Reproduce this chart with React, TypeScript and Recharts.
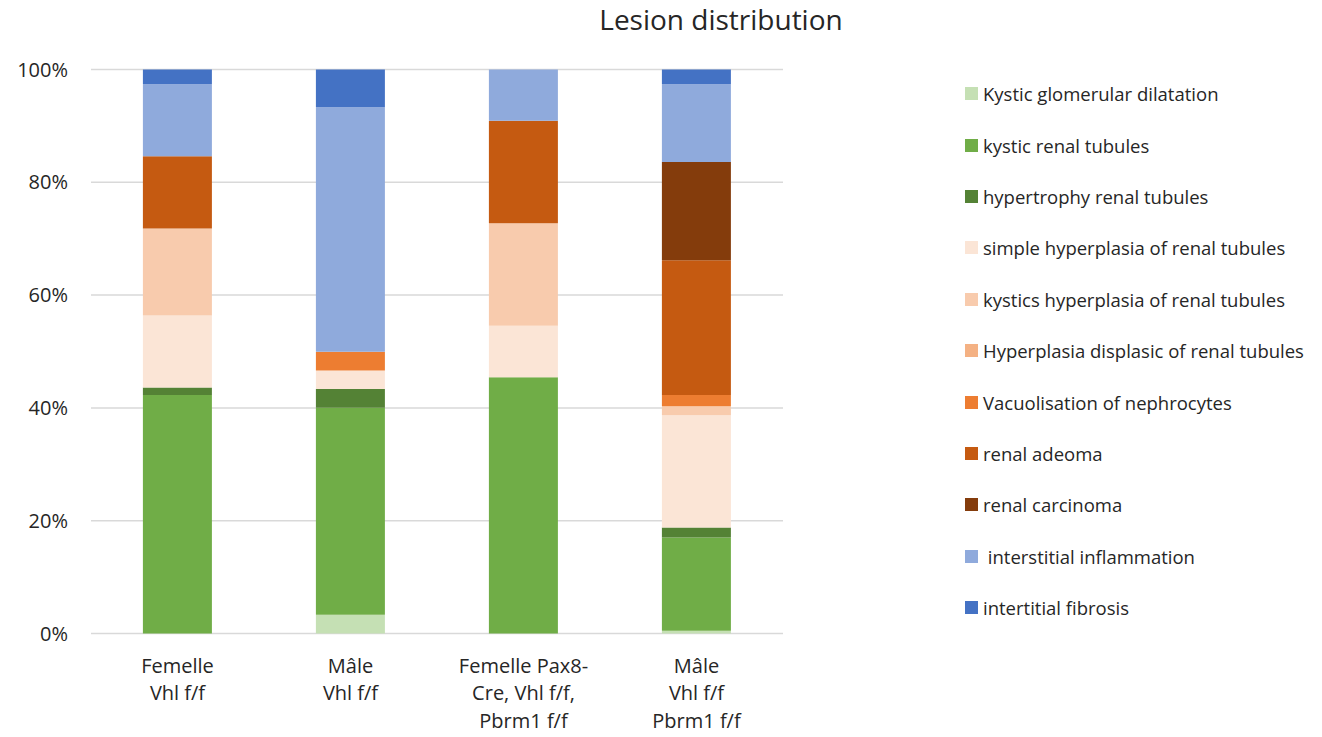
import React from 'react';
import { BarChart, Bar, XAxis, YAxis, CartesianGrid } from 'recharts';

// groups on the x axis
const categories = ['Femelle Vhl f/f', 'Mâle Vhl f/f', 'Femelle Pax8-Cre, Vhl f/f, Pbrm1 f/f', 'Mâle Vhl f/f Pbrm1 f/f'];
const categoryLines = [
    ['Femelle', 'Vhl f/f'],
    ['Mâle', 'Vhl f/f'],
    ['Femelle Pax8-', 'Cre, Vhl f/f,', 'Pbrm1 f/f'],
    ['Mâle', 'Vhl f/f', 'Pbrm1 f/f'],
];

// lesion shares (%) per group
const glomerularDilatation = [0, 3.3, 0, 0.5];
const kysticTubules = [42.3, 36.7, 45.5, 16.5];
const hypertrophyTubules = [1.3, 3.3, 0, 1.8];
const simpleHyperplasia = [12.8, 3.3, 9.1, 19.9];
const kysticsHyperplasia = [15.4, 0, 18.2, 1.6];
const displasicHyperplasia = [0, 0, 0, 0];
const vacuolisation = [0, 3.3, 0, 2.0];
const renalAdenoma = [12.8, 0, 18.2, 23.9];
const renalCarcinoma = [0, 0, 0, 17.4];
const inflammation = [12.8, 43.3, 9.1, 13.8];
const fibrosis = [2.6, 6.7, 0, 2.6];

const yTicks = [0, 0.2, 0.4, 0.6, 0.8, 1];

const series = [
    { key: 'glomerular', name: 'Kystic glomerular dilatation', values: glomerularDilatation, color: '#C5E0B4' },
    { key: 'kysticTubules', name: 'kystic renal tubules', values: kysticTubules, color: '#70AD47' },
    { key: 'hypertrophy', name: 'hypertrophy renal tubules', values: hypertrophyTubules, color: '#548235' },
    { key: 'simple', name: 'simple hyperplasia of renal tubules', values: simpleHyperplasia, color: '#FBE5D6' },
    { key: 'kystics', name: 'kystics hyperplasia of renal tubules', values: kysticsHyperplasia, color: '#F8CBAD' },
    { key: 'displasic', name: 'Hyperplasia displasic of renal tubules', values: displasicHyperplasia, color: '#F4B183' },
    { key: 'vacuolisation', name: 'Vacuolisation of nephrocytes', values: vacuolisation, color: '#ED7D31' },
    { key: 'adenoma', name: 'renal adeoma', values: renalAdenoma, color: '#C55A11' },
    { key: 'carcinoma', name: 'renal carcinoma', values: renalCarcinoma, color: '#843C0C' },
    { key: 'inflammation', name: '\u00a0interstitial inflammation', values: inflammation, color: '#8FAADC' },
    { key: 'fibrosis', name: 'intertitial fibrosis', values: fibrosis, color: '#4472C4' },
];

const data = categories.map((name, i) => {
    const row: any = { name };
    series.forEach((s) => {
        row[s.key] = s.values[i];
    });
    return row;
});

const FONT = '"Open Sans", "Noto Sans", sans-serif';

const CategoryTick = (props: any) => {
    const { x, y, payload } = props;
    const lines = categoryLines[payload.index] || [payload.value];
    return (
        <text x={x} y={y} textAnchor="middle" fill="#262626" fontSize={20} fontFamily={FONT}>
            {lines.map((line, i) => (
                <tspan key={i} x={x} dy={i === 0 ? 39 : 27.5}>
                    {line}
                </tspan>
            ))}
        </text>
    );
};

const App = () => {
    return (
        <div style={{ position: 'absolute', left: 0, top: 0, width: 1322, height: 737, background: '#fff', fontFamily: FONT }}>
            <div style={{ position: 'absolute', left: 0, width: 1442, top: 0, textAlign: 'center', fontSize: 28, color: '#262626' }}>
                Lesion distribution
            </div>
            <BarChart
                width={1322}
                height={737}
                data={data}
                stackOffset="expand"
                barCategoryGap="30%"
                margin={{ top: 69.5, right: 539, bottom: 3.5, left: 31 }}
            >
                <CartesianGrid vertical={false} stroke="#D9D9D9" strokeWidth={1.5} />
                <XAxis
                    dataKey="name"
                    axisLine={false}
                    tickLine={false}
                    interval={0}
                    height={100}
                    tickSize={0}
                    tickMargin={0}
                    tick={<CategoryTick />}
                />
                <YAxis
                    width={60}
                    domain={[0, 1]}
                    ticks={yTicks}
                    axisLine={false}
                    tickLine={false}
                    tickSize={0}
                    tickMargin={23}
                    tickFormatter={(v: number) => `${Math.round(v * 100)}%`}
                    tick={{ fill: '#262626', fontSize: 20, fontFamily: FONT }}
                />
                {series.map((s) => (
                    <Bar key={s.key} dataKey={s.key} name={s.name} stackId="a" fill={s.color} isAnimationActive={false} />
                ))}
            </BarChart>
            <div style={{ position: 'absolute', left: 965, top: 68 }}>
                {series.map((s) => (
                    <div key={s.key} style={{ display: 'flex', alignItems: 'center', height: 51.4 }}>
                        <span style={{ width: 13, height: 13, background: s.color, display: 'inline-block', marginRight: 5 }} />
                        <span style={{ fontSize: 18.5, color: '#262626', whiteSpace: 'pre' }}>{s.name}</span>
                    </div>
                ))}
            </div>
        </div>
    );
};

export default App;
